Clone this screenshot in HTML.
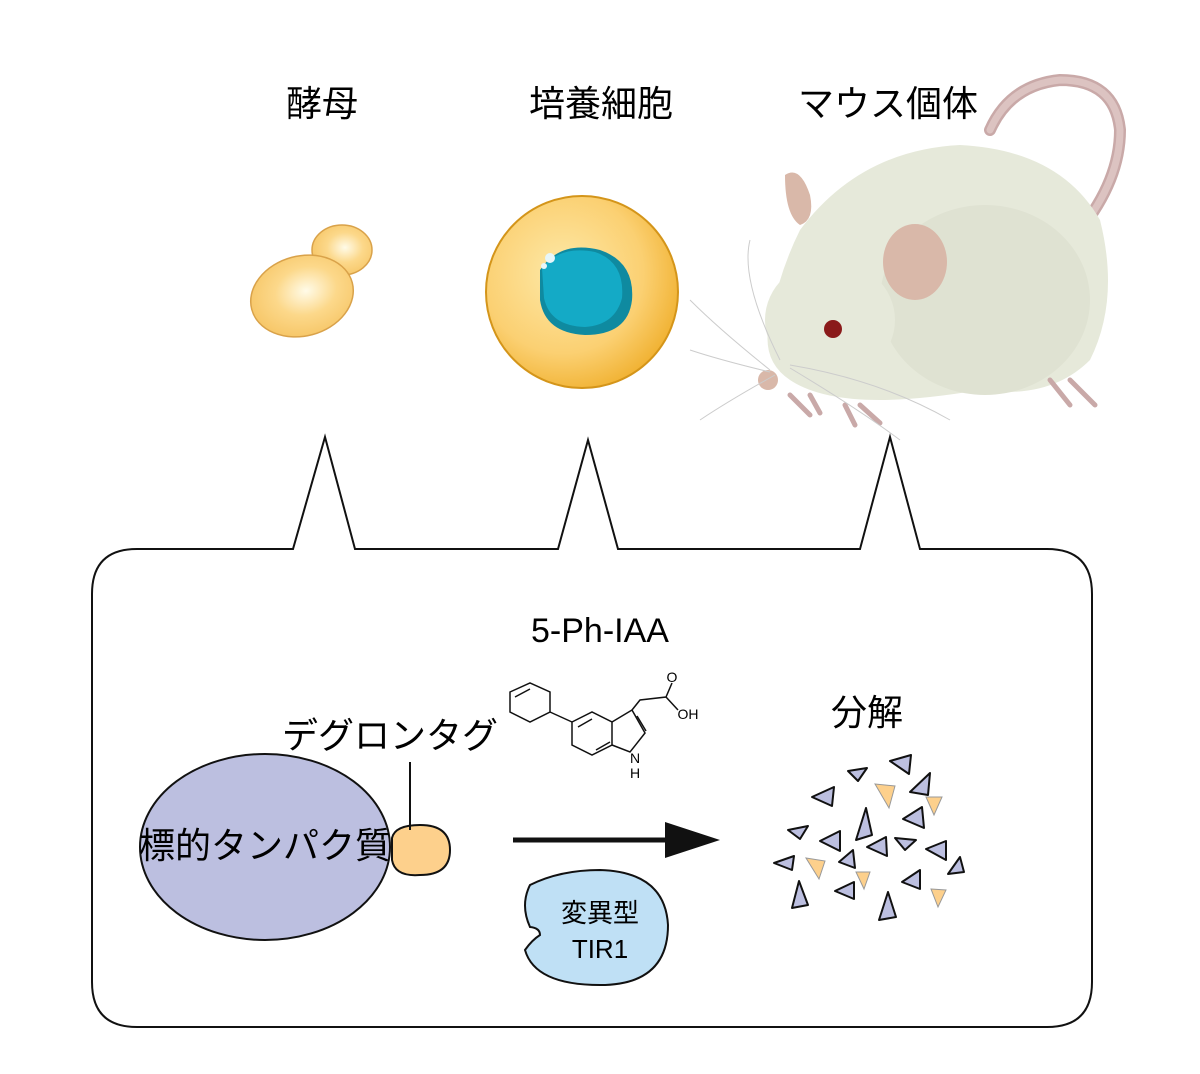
<!DOCTYPE html>
<html><head><meta charset="utf-8"><style>
html,body{margin:0;padding:0;background:#fff}
svg text{font-family:"Liberation Sans","Noto Sans CJK JP",sans-serif}
</style></head><body>
<svg width="1200" height="1069" viewBox="0 0 1200 1069" xmlns="http://www.w3.org/2000/svg">
<defs>
<radialGradient id="yg" cx="0.55" cy="0.45" r="0.6"><stop offset="0" stop-color="#fffbe8"/><stop offset="0.5" stop-color="#fcd88a"/><stop offset="1" stop-color="#f6c565"/></radialGradient>
<radialGradient id="cg" cx="0.4" cy="0.4" r="0.7"><stop offset="0" stop-color="#fde9a8"/><stop offset="0.6" stop-color="#fbd072"/><stop offset="1" stop-color="#eeaa22"/></radialGradient>
</defs>
<text x="322" y="116" font-size="36" text-anchor="middle">酵母</text>
<text x="601" y="116" font-size="36" text-anchor="middle">培養細胞</text>
<text x="888" y="116" font-size="36" text-anchor="middle">マウス個体</text>
<g stroke="#d9a24a" stroke-width="1.5" fill="url(#yg)">
<ellipse cx="342" cy="250" rx="30" ry="25"/>
<ellipse cx="302" cy="296" rx="52" ry="40" transform="rotate(-15 302 296)"/>
</g>
<circle cx="582" cy="292" r="96" fill="url(#cg)" stroke="#d4951a" stroke-width="2"/>
<path d="M540 270 Q560 240 600 250 Q635 262 632 300 Q628 335 585 335 Q545 333 540 300Z" fill="#0f8aa0"/>
<path d="M542 268 Q560 245 595 252 Q625 262 622 298 Q615 325 585 327 Q550 326 544 298Z" fill="#14aac6"/>
<circle cx="550" cy="258" r="5" fill="#e6f6fa"/><circle cx="544" cy="266" r="3" fill="#e6f6fa"/>
<path d="M1080 230 Q1120 180 1120 130 Q1115 80 1060 80 Q1010 85 990 130" fill="none" stroke="#c9a9a8" stroke-width="12" stroke-linecap="round"/>
<path d="M1080 230 Q1120 180 1120 130 Q1115 80 1060 80 Q1010 85 990 130" fill="none" stroke="#dcc3c1" stroke-width="7" stroke-linecap="round"/>
<g fill="#e6e9da">
<path d="M800 230 Q860 150 960 145 Q1060 150 1100 220 Q1120 300 1090 360 Q1050 400 980 390 Q920 400 880 400 Q820 400 790 380 Q760 360 770 320 Q780 270 800 230Z"/>
<ellipse cx="985" cy="300" rx="105" ry="95" fill="#dfe2d2"/>
<ellipse cx="830" cy="320" rx="65" ry="60"/>
</g>
<path d="M785 175 Q800 165 810 195 Q815 220 800 225 Q785 215 785 175Z" fill="#d9b8a9"/>
<ellipse cx="915" cy="262" rx="32" ry="38" fill="#d9b8a9"/>
<ellipse cx="833" cy="329" rx="9" ry="9" fill="#8a1a1a"/>
<circle cx="768" cy="380" r="10" fill="#d9b8a9"/>
<path d="M790 395 l20 20 M810 395 l10 18 M845 405 l10 20 M860 405 l20 18 M1050 380 l20 25 M1070 380 l25 25" stroke="#c9a9a8" stroke-width="5" stroke-linecap="round"/>
<g stroke="#ccc" stroke-width="1" fill="none">
<path d="M770 370 Q720 330 690 300"/><path d="M770 372 Q720 360 690 350"/><path d="M775 375 Q730 400 700 420"/><path d="M790 365 Q880 380 950 420"/><path d="M790 368 Q860 410 900 440"/><path d="M780 360 Q740 280 750 240"/>
</g>
<path d="M137 549 L293 549 L325 437 L355 549 L558 549 L588 440 L618 549 L860 549 L890 437 L920 549 L1047 549 Q1092 549 1092 594 L1092 982 Q1092 1027 1047 1027 L137 1027 Q92 1027 92 982 L92 594 Q92 549 137 549Z" fill="none" stroke="#111" stroke-width="2"/>
<text x="600" y="642" font-size="34" text-anchor="middle">5-Ph-IAA</text>
<g stroke="#111" stroke-width="1.5" fill="none">
<polygon points="510,692 530,683 550,692 550,712 530,722 510,712"/>
<path d="M550 712 L572 722"/>
<polygon points="572,722 592,712 612,722 612,745 592,755 572,745"/>
<path d="M612 722 L632 710 L645 733 L630 752 L612 745"/>
<path d="M632 710 L640 700 L666 697 L672 683"/>
<path d="M666 697 L678 710"/>
<path d="M515 697 L530 689 M578 727 L592 719 M596 750 L610 742 M637 716 L646 731"/>
</g>
<text x="672" y="682" font-size="14" text-anchor="middle">O</text>
<text x="688" y="719" font-size="14" text-anchor="middle">OH</text>
<text x="635" y="763" font-size="14" text-anchor="middle">N</text>
<text x="635" y="778" font-size="14" text-anchor="middle">H</text>
<ellipse cx="265" cy="847" rx="125" ry="93" fill="#bcbfe0" stroke="#111" stroke-width="2"/>
<path d="M392 838 Q395 825 420 825 Q450 825 450 850 Q450 875 420 875 Q395 877 392 860Z" fill="#fdd08c" stroke="#111" stroke-width="2"/>
<line x1="410" y1="762" x2="410" y2="830" stroke="#111" stroke-width="2"/>
<text x="390" y="748" font-size="36" text-anchor="middle">デグロンタグ</text>
<text x="265" y="858" font-size="36" text-anchor="middle">標的タンパク質</text>
<line x1="513" y1="840" x2="680" y2="840" stroke="#111" stroke-width="5"/>
<polygon points="665,822 720,840 665,858" fill="#111"/>
<path d="M530 885 Q560 870 600 870 Q665 872 668 925 Q668 985 600 985 Q535 985 525 950 Q532 940 540 935 Q540 928 530 927 Q520 905 530 885Z" fill="#bfe0f5" stroke="#111" stroke-width="2"/>
<text x="600" y="922" font-size="26" text-anchor="middle">変異型</text>
<text x="600" y="958" font-size="26" text-anchor="middle">TIR1</text>
<text x="867" y="725" font-size="36" text-anchor="middle">分解</text>
<g stroke="#111" stroke-width="2" stroke-linejoin="round" fill="#bcbfe0">
<polygon points="848,771 867,768 858,781"/>
<polygon points="890,761 911,755 909,774"/>
<polygon points="910,792 930,773 928,795"/>
<polygon points="812,797 834,787 832,806"/>
<polygon points="903,819 922,807 924,828"/>
<polygon points="856,840 866,808 872,835"/>
<polygon points="788,830 808,826 800,839"/>
<polygon points="820,841 840,831 840,851"/>
<polygon points="867,847 886,837 887,856"/>
<polygon points="895,838 916,840 905,850"/>
<polygon points="926,849 946,841 946,860"/>
<polygon points="774,863 794,856 792,870"/>
<polygon points="839,862 853,850 855,868"/>
<polygon points="948,874 960,857 964,872"/>
<polygon points="902,882 920,870 920,889"/>
<polygon points="792,908 799,881 808,905"/>
<polygon points="835,891 854,882 854,899"/>
<polygon points="879,920 888,892 896,917"/>
</g>
<g stroke="#999" stroke-width="1" fill="#fdd08c">
<polygon points="875,784 895,786 889,808"/>
<polygon points="926,797 942,797 934,815"/>
<polygon points="806,858 825,861 819,879"/>
<polygon points="856,872 870,872 864,889"/>
<polygon points="931,889 946,890 938,907"/>
</g>
</svg>
</body></html>
